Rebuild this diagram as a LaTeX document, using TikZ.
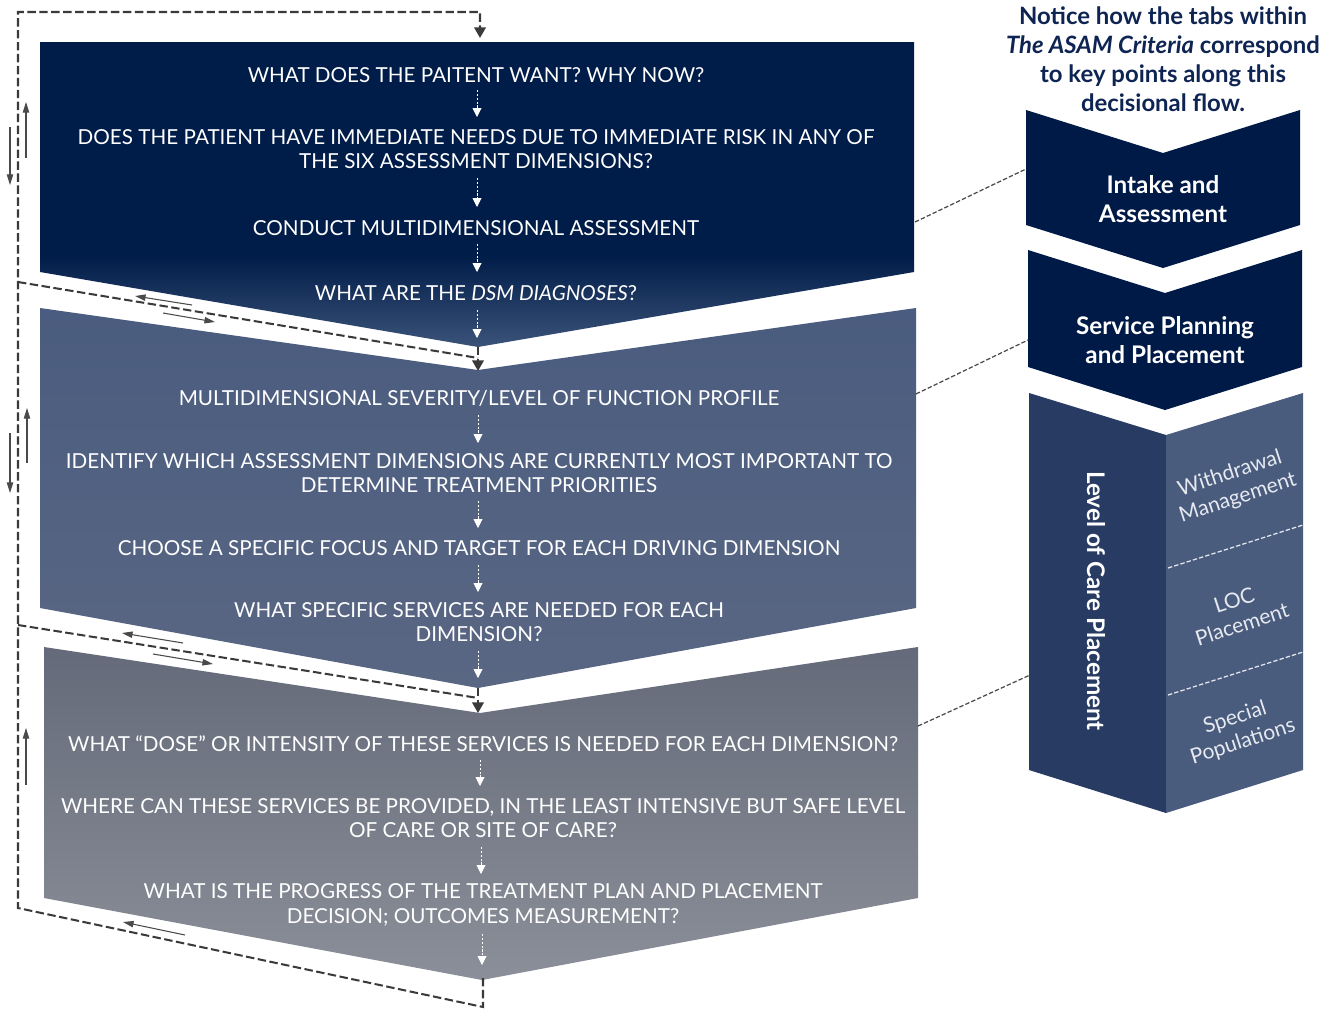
\documentclass[tikz,border=0pt]{standalone}
\usepackage{fontspec}
\setmainfont{Lato}
\usetikzlibrary{arrows.meta}
\definecolor{navy}{HTML}{001C48}
\definecolor{navyL}{HTML}{3B5379}
\definecolor{slate}{HTML}{4A5C7F}
\definecolor{slateB}{HTML}{5A6783}
\definecolor{greyT}{HTML}{646A79}
\definecolor{greyB}{HTML}{8B8F99}
\definecolor{tabnavy}{HTML}{001A47}
\definecolor{tabL}{HTML}{273B63}
\definecolor{tabR}{HTML}{4A5C7E}
\definecolor{loopc}{HTML}{3A3A3A}
\definecolor{smallc}{HTML}{4A4A4A}
\definecolor{linkc}{HTML}{4A4A4A}
\definecolor{titlec}{HTML}{0E2452}
\definecolor{sidec}{HTML}{E6E9EF}
\pgfdeclareverticalshading{boxone}{100bp}{color(0bp)=(navyL); color(25bp)=(navyL); color(40bp)=(navy); color(100bp)=(navy)}
\begin{document}
\begin{tikzpicture}[x=0.02cm,y=-0.02cm,
  boxtext/.style={text=white, font=\fontsize{11.75}{14}\selectfont, align=center, inner sep=0pt},
  inarrow/.style={draw=white, line width=0.5pt, dash pattern=on 1.2pt off 1pt, -{Triangle[width=5pt,length=5pt]}},
  loopline/.style={draw=loopc, line width=1.15pt, dash pattern=on 4.8pt off 2pt},
  looparrow/.style={loopline, -{Triangle[width=6.5pt,length=6pt]}},
  smallarrow/.style={draw=smallc, line width=0.6pt, -{Triangle[width=3.6pt,length=6pt]}},
  linkline/.style={draw=linkc, line width=0.7pt, dash pattern=on 2.5pt off 1.2pt},
  tabtext/.style={text=white, font=\bfseries\fontsize{13.8}{16.4}\selectfont, align=center, inner sep=0pt},
  sidetext/.style={text=sidec, font=\fontsize{12}{14.5}\selectfont, align=center, inner sep=0pt, rotate=18},
  titletext/.style={text=titlec, font=\bfseries\fontsize{13.6}{16.4}\selectfont, align=center, inner sep=0pt}
]
\useasboundingbox (0,0) rectangle (1334,1011);
\fill[white] (0,0) rectangle (1334,1011);

% ---------- main boxes ----------
\path[shading=boxone] (40,42) -- (914,42) -- (914,272) -- (478,347) -- (40,272) -- cycle;
\path[top color=slate, bottom color=slateB] (40,308) -- (478,370) -- (916,308) -- (916,608) -- (478,688) -- (40,608) -- cycle;
\path[top color=greyT, bottom color=greyB] (44,647) -- (480,713) -- (918,647) -- (918,898) -- (482,980) -- (44,898) -- cycle;

% ---------- box texts ----------
\node[boxtext] (t1) at (476,75) {WHAT DOES THE PAITENT WANT? WHY NOW?};
\node[boxtext] (t2) at (476,149) {DOES THE PATIENT HAVE IMMEDIATE NEEDS DUE TO IMMEDIATE RISK IN ANY OF\\THE SIX ASSESSMENT DIMENSIONS?};
\node[boxtext] (t3) at (476,228) {CONDUCT MULTIDIMENSIONAL ASSESSMENT};
\node[boxtext] (t4) at (476,293) {WHAT ARE THE \textit{DSM DIAGNOSES}?};
\node[boxtext] (t5) at (479,398) {MULTIDIMENSIONAL SEVERITY/LEVEL OF FUNCTION PROFILE};
\node[boxtext] (t6) at (479,473) {IDENTIFY WHICH ASSESSMENT DIMENSIONS ARE CURRENTLY MOST IMPORTANT TO\\DETERMINE TREATMENT PRIORITIES};
\node[boxtext] (t7) at (479,548) {CHOOSE A SPECIFIC FOCUS AND TARGET FOR EACH DRIVING DIMENSION};
\node[boxtext] (t8) at (479,622) {WHAT SPECIFIC SERVICES ARE NEEDED FOR EACH\\DIMENSION?};
\node[boxtext] (t9) at (483,744) {WHAT “DOSE” OR INTENSITY OF THESE SERVICES IS NEEDED FOR EACH DIMENSION?};
\node[boxtext] (t10) at (483,818) {WHERE CAN THESE SERVICES BE PROVIDED, IN THE LEAST INTENSIVE BUT SAFE LEVEL\\OF CARE OR SITE OF CARE?};
\node[boxtext] (t11) at (483,905) {WHAT IS THE PROGRESS OF THE TREATMENT PLAN AND PLACEMENT\\DECISION; OUTCOMES MEASUREMENT?};

% ---------- inner arrows ----------
\coordinate (a1s) at (477,90);  \coordinate (a1e) at (477,117);
\coordinate (a2s) at (477,178); \coordinate (a2e) at (477,207);
\coordinate (a3s) at (477,244); \coordinate (a3e) at (477,272);
\coordinate (a4s) at (477,310); \coordinate (a4e) at (477,338);
\coordinate (a5s) at (478,415); \coordinate (a5e) at (478,443);
\coordinate (a6s) at (478,501); \coordinate (a6e) at (478,528);
\coordinate (a7s) at (478,565); \coordinate (a7e) at (478,592);
\coordinate (a8s) at (478,651); \coordinate (a8e) at (478,678);
\coordinate (a9s) at (480,760); \coordinate (a9e) at (480,786);
\coordinate (a10s) at (481,847); \coordinate (a10e) at (481,874);
\coordinate (a11s) at (482,934); \coordinate (a11e) at (482,965);
\foreach \i in {1,...,11} {\draw[inarrow] (a\i s) -- (a\i e);}

% ---------- feedback loops ----------
\coordinate (L0) at (483,978);
\coordinate (L1) at (483,1007);
\coordinate (L2) at (18,908);
\coordinate (L3) at (18,12);
\coordinate (L4) at (480,12);
\coordinate (L5) at (480,38);
\draw[looparrow] (L0) -- (L1) -- (L2) -- (L3) -- (L4) -- (L5);

\coordinate (B1a) at (18,282);
\coordinate (B1t) at (478,347);
\coordinate (B1b) at (478,358);
\coordinate (B1c) at (478,371);
\draw[loopline] (B1a) -- (B1b);
\draw[looparrow] (B1t) -- (B1b) -- (B1c);

\coordinate (B2a) at (18,625);
\coordinate (B2t) at (478,688);
\coordinate (B2b) at (478,698);
\coordinate (B2c) at (478,713);
\draw[loopline] (B2a) -- (B2b);
\draw[looparrow] (B2t) -- (B2b) -- (B2c);

% ---------- small solid arrows ----------
\coordinate (s1a) at (192,305); \coordinate (s1b) at (135,296);
\coordinate (s2a) at (163,313); \coordinate (s2b) at (215,322);
\coordinate (s3a) at (183,643); \coordinate (s3b) at (122,633);
\coordinate (s4a) at (153,654); \coordinate (s4b) at (213,664);
\coordinate (s5a) at (185,935); \coordinate (s5b) at (123,922);
\coordinate (v1a) at (26,158); \coordinate (v1b) at (26,102);
\coordinate (v2a) at (10,127); \coordinate (v2b) at (10,185);
\coordinate (v3a) at (27,463); \coordinate (v3b) at (27,408);
\coordinate (v4a) at (10,433); \coordinate (v4b) at (10,493);
\coordinate (v5a) at (26,785); \coordinate (v5b) at (26,728);
\foreach \n in {s1,s2,s3,s4,s5,v1,v2,v3,v4,v5} {\draw[smallarrow] (\n a) -- (\n b);}

% ---------- right side ----------
\node[titletext] (title) at (1163,59) {Notice how the tabs within\\\textit{The ASAM Criteria} correspond\\to key points along this\\decisional flow.};

\fill[tabnavy] (1026,110) -- (1163,153) -- (1300,110) -- (1300,225) -- (1163,268) -- (1026,225) -- cycle;
\node[tabtext] (tab1) at (1163,199) {Intake and\\Assessment};

\fill[tabnavy] (1028,250) -- (1165,293) -- (1302,250) -- (1302,367) -- (1165,410) -- (1028,367) -- cycle;
\node[tabtext] (tab2) at (1165,340) {Service Planning\\and Placement};

\fill[tabL] (1029,393) -- (1166,435) -- (1166,813) -- (1029,770) -- cycle;
\fill[tabR] (1166,435) -- (1303,393) -- (1303,770) -- (1166,813) -- cycle;
\node[tabtext, rotate=-90] (tab3) at (1096,601) {Level of Care Placement};

\coordinate (d1a) at (1168,568); \coordinate (d1b) at (1303,525);
\coordinate (d2a) at (1168,695); \coordinate (d2b) at (1303,652);
\draw[draw=sidec, line width=0.7pt, dash pattern=on 2.5pt off 1.2pt] (d1a) -- (d1b);
\draw[draw=sidec, line width=0.7pt, dash pattern=on 2.5pt off 1.2pt] (d2a) -- (d2b);

\node[sidetext] (wm) at (1234,486) {Withdrawal\\Management};
\node[sidetext] (loc) at (1238,612) {LOC\\Placement};
\node[sidetext] (sp) at (1239,730) {Special\\Populations};

% ---------- links from boxes to tabs ----------
\coordinate (c1a) at (915,222); \coordinate (c1b) at (1026,169);
\coordinate (c2a) at (916,394); \coordinate (c2b) at (1028,340);
\coordinate (c3a) at (918,726); \coordinate (c3b) at (1030,675);
\draw[linkline] (c1a) -- (c1b);
\draw[linkline] (c2a) -- (c2b);
\draw[linkline] (c3a) -- (c3b);
\end{tikzpicture}
\end{document}
